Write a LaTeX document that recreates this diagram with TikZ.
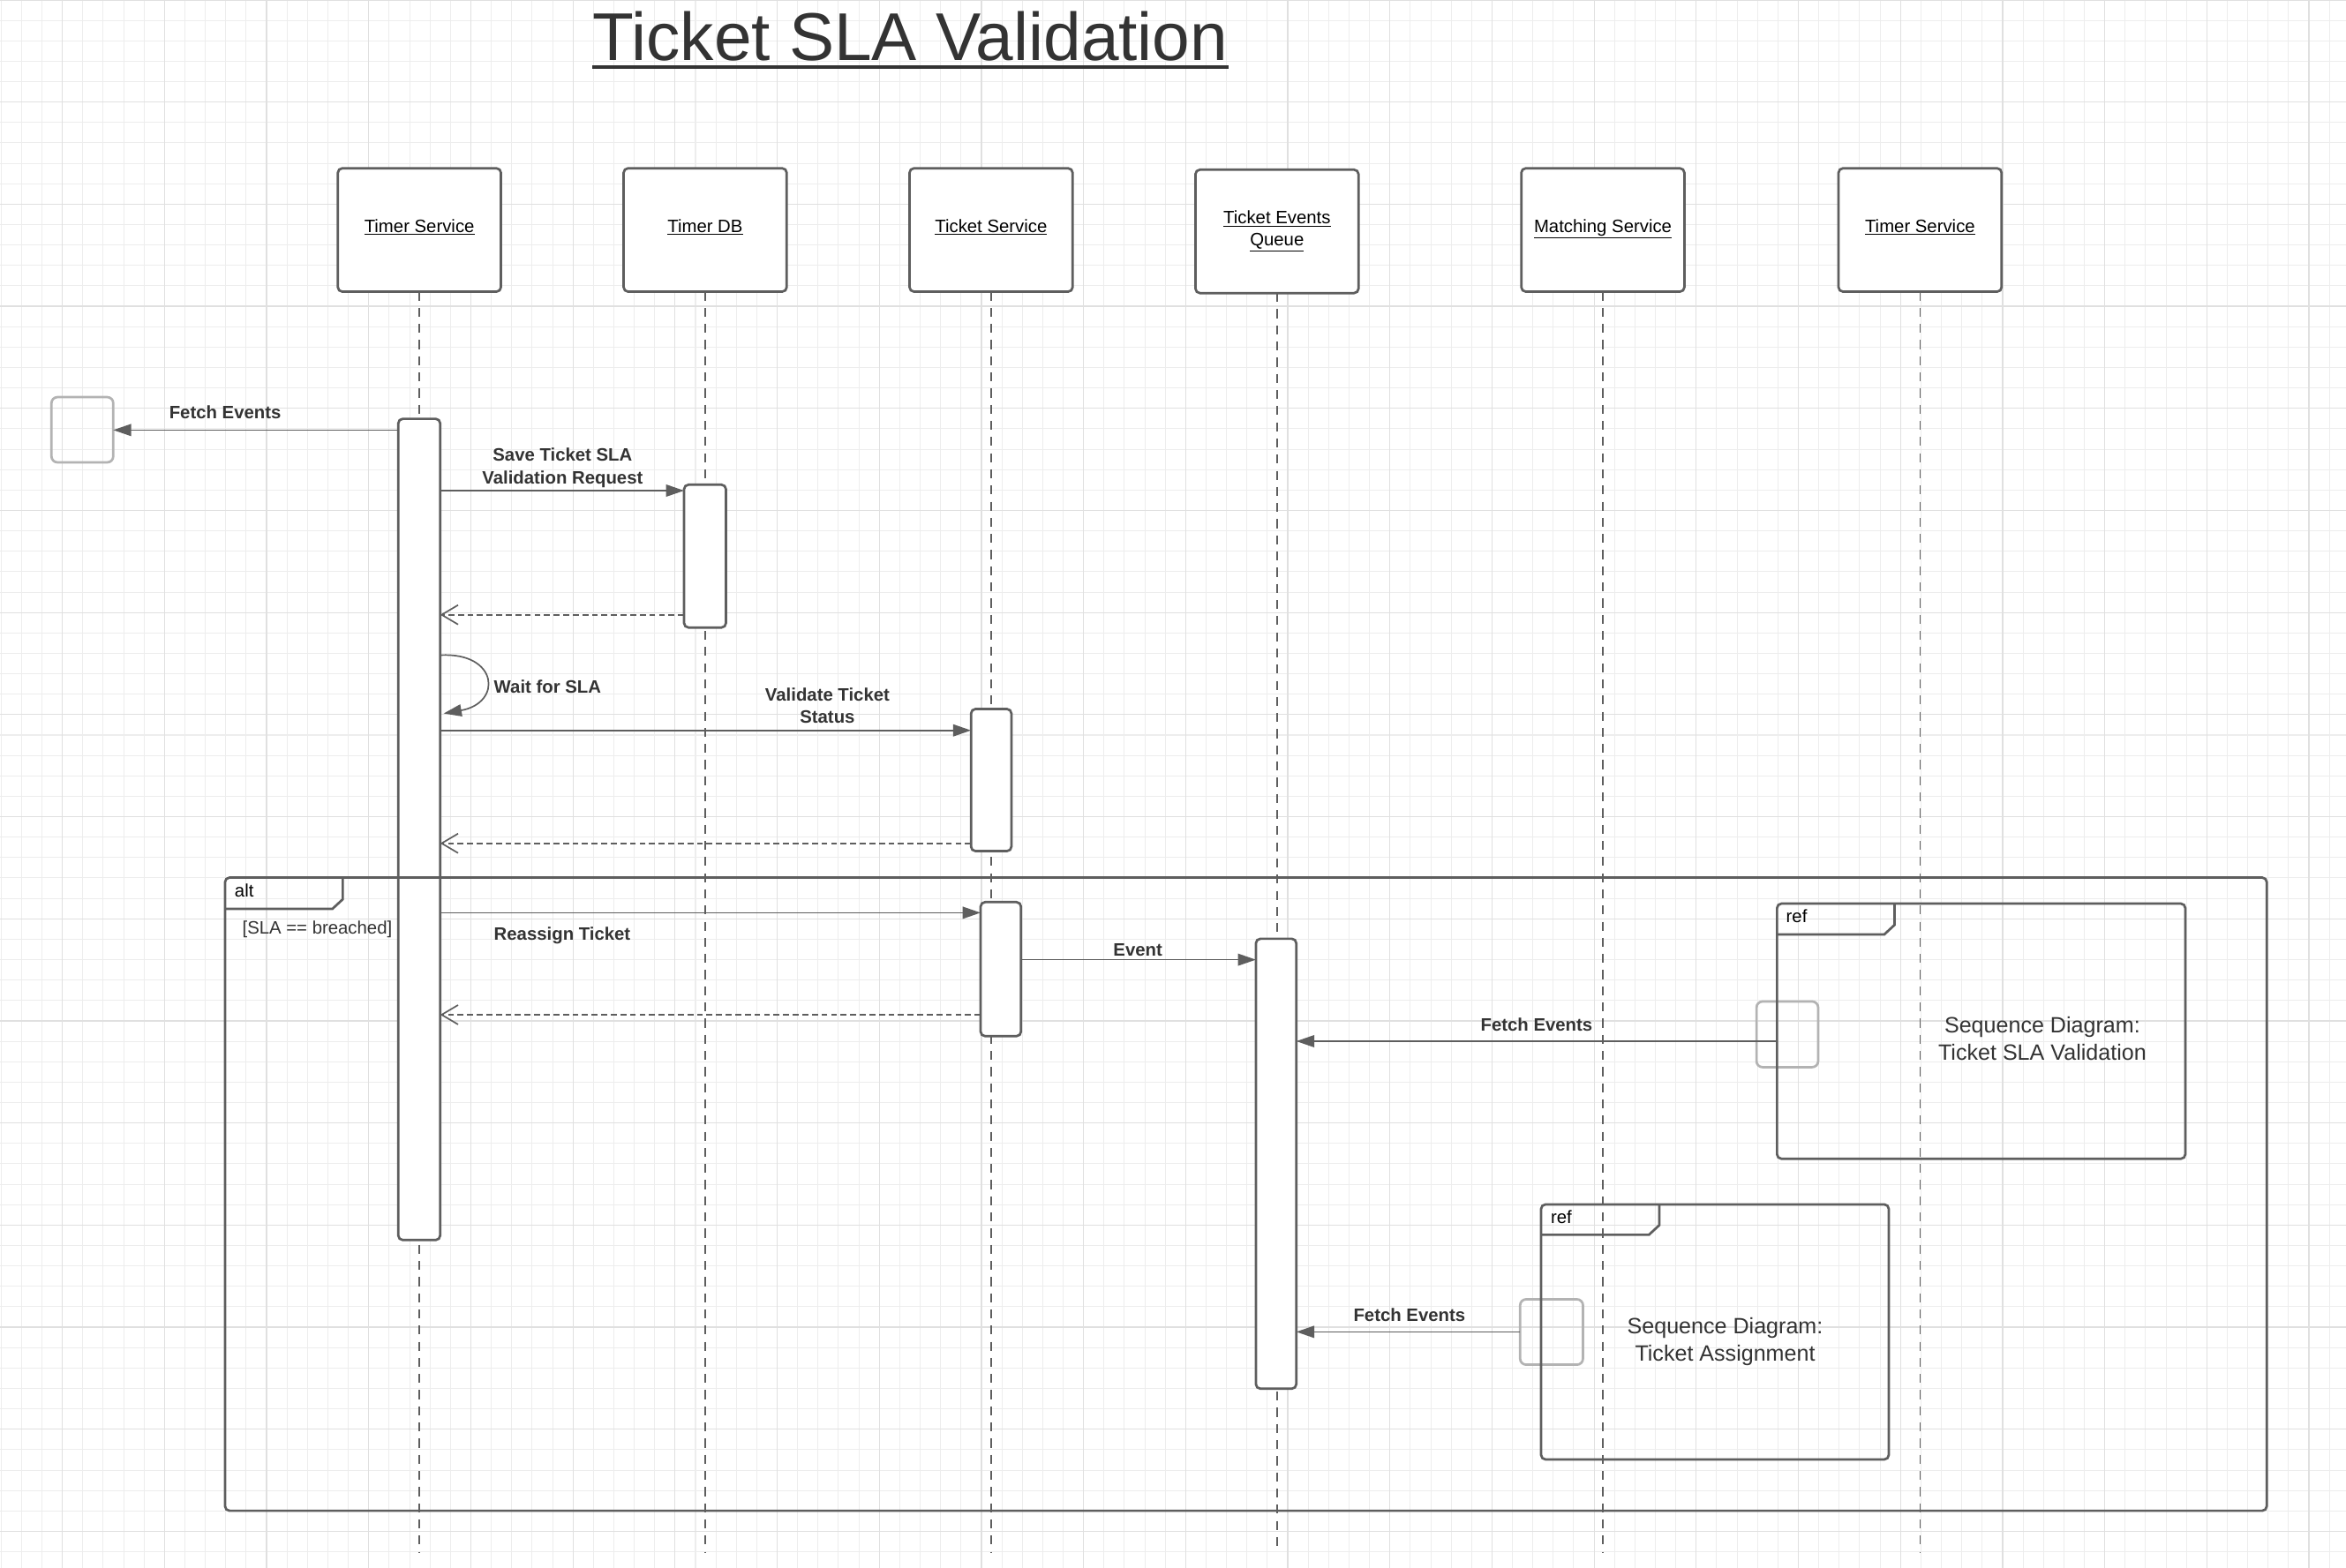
\documentclass[tikz,border=0pt]{standalone}
\usepackage{fontspec}
\setmainfont{Liberation Sans}
\usetikzlibrary{arrows.meta,calc}
\definecolor{ln}{HTML}{5E5E5E}
\definecolor{tx}{HTML}{333333}
\definecolor{gb}{HTML}{B3B3B3}
\definecolor{gmin}{HTML}{EDEDED}
\definecolor{gmaj}{HTML}{E0E0E0}
\tikzset{
  head/.style={draw=ln, line width=1.6pt, fill=white, rounded corners=3pt, minimum width=109pt, minimum height=82.5pt, inner sep=0pt, outer sep=0pt, font=\fontsize{12}{14.4}\selectfont, text=black, align=center},
  onehead/.style={head, text height=8pt, text depth=5pt},
  actbar/.style={draw=ln, line width=1.6pt, fill=white, rounded corners=3pt, inner sep=0pt, outer sep=0pt},
  ghost/.style={draw=gb, line width=1.6pt, rounded corners=4pt, inner sep=0pt, outer sep=0pt},
  lifeline/.style={draw=ln, line width=1pt, dash pattern=on 6pt off 4.8pt},
  msg/.style={draw=ln, line width=1pt, -{Triangle[length=12pt,width=8pt]}},
  retmsg/.style={draw=ln, line width=1pt, dash pattern=on 4pt off 2.4pt, -{Straight Barb[length=11pt,width=13pt,line width=1pt]}},
  lbl/.style={font=\fontsize{12}{14.4}\selectfont\bfseries, text=tx, inner sep=0pt, anchor=base},
  guard/.style={font=\fontsize{12}{14.4}\selectfont, inner sep=0pt, anchor=base west},
  reftext/.style={font=\fontsize{14.8}{17.8}\selectfont, text=tx, inner sep=0pt, anchor=base},
  umlframe/.style={draw=ln, line width=1.6pt, rounded corners=3pt, inner sep=0pt, outer sep=0pt},
  tabline/.style={draw=ln, line width=1.6pt},
}
\begin{document}
\begin{tikzpicture}[x=1pt,y=-1pt]
\useasboundingbox (0,0) rectangle (1568,1048);
\fill[white] (0,0) rectangle (1568,1048);
% grid
\foreach \i in {0,...,114} \draw[gmin, line width=0.6pt] ({0.75+13.65*\i},0) -- ({0.75+13.65*\i},1048);
\foreach \i in {0,...,76} \draw[gmin, line width=0.6pt] (0,{13.65*\i}) -- (1568,{13.65*\i});
\foreach \i in {0,...,22} \draw[gmaj, line width=0.7pt] ({41.7+68.25*\i},0) -- ({41.7+68.25*\i},1048);
\foreach \i in {0,...,15} \draw[gmaj, line width=0.7pt] (0,{68.25*\i}) -- (1568,{68.25*\i});

% title
\node[font=\fontsize{45.2}{54}\selectfont, text=tx, anchor=base, inner sep=0pt] (title) at (608.4,40.3) {Ticket SLA Validation};
\draw[tx, line width=2.5pt] ([yshift=-4.7pt]title.base west) -- ([yshift=-4.7pt]title.base east);

% lifeline heads
\node[onehead] (h1) at (280.3,153.75) {\underline{Timer Service}};
\node[onehead] (h2) at (471.3,153.75) {\underline{Timer DB}};
\node[onehead] (h3) at (662.4,153.75) {\underline{Ticket Service}};
\node[head] (h4) at (853.5,154.7) {\underline{Ticket Events}\\\underline{Queue}};
\node[onehead] (h5) at (1071.3,153.75) {\underline{Matching Service}};
\node[onehead] (h6) at (1283.3,153.75) {\underline{Timer Service}};

% lifeline ends
\coordinate (e1) at (280.3,1038);
\coordinate (e2) at (471.3,1038);
\coordinate (e3) at (662.4,1038);
\coordinate (e4) at (853.5,1038);
\coordinate (e5) at (1071.3,1038);
\coordinate (e6) at (1283.3,1038);
\draw[lifeline] (h1.south) -- (e1);
\draw[lifeline] (h2.south) -- (e2);
\draw[lifeline] (h3.south) -- (e3);
\draw[lifeline] (h4.south) -- (e4);
\draw[lifeline] (h5.south) -- (e5);
\draw[lifeline] (h6.south) -- (e6);

% activation bars
\node[actbar, minimum width=28pt, minimum height=549pt] (b1) at (280.2,554.5) {};
\node[actbar, minimum width=28pt, minimum height=95.5pt] (b2) at (471.2,371.8) {};
\node[actbar, minimum width=27pt, minimum height=95pt] (b3) at (662.5,521.5) {};
\node[actbar, minimum width=27pt, minimum height=89.6pt] (b4) at (668.9,647.9) {};
\node[actbar, minimum width=27pt, minimum height=300.8pt] (b5) at (852.9,778) {};

% ghost boxes
\node[ghost, minimum width=41.3pt, minimum height=43.6pt] (g1) at (55.05,287.3) {};
\node[ghost, minimum width=41.2pt, minimum height=43.9pt] (g2) at (1194.6,691.5) {};
\node[ghost, minimum width=42pt, minimum height=43.7pt] (g3) at (1037,890.5) {};

% frames
\node[umlframe, minimum width=1364.6pt, minimum height=423.3pt] (alt) at (832.7,798.35) {};
\draw[tabline] ($(alt.north west)+(0,20.9)$) -- ++(71.8,0) -- ++(6.9,-6.4) -- ++(0,-14.5);
\node[umlframe, minimum width=272.9pt, minimum height=170.6pt] (ref1) at (1324.15,689.4) {};
\draw[tabline] ($(ref1.north west)+(0,20.6)$) -- ++(71.7,0) -- ++(6.9,-6.4) -- ++(0,-14.2);
\node[umlframe, minimum width=232.4pt, minimum height=170.5pt] (ref2) at (1146.2,890.45) {};
\draw[tabline] ($(ref2.north west)+(0,20.3)$) -- ++(72.1,0) -- ++(6.9,-6.4) -- ++(0,-13.9);

\node[guard, text=black] (altlbl) at (156.7,599.7) {alt};
\node[guard, text=tx] (guardlbl) at (161.8,624.7) {[SLA == breached]};
\node[guard, text=black] (ref1lbl) at (1193.6,616.8) {ref};
\node[guard, text=black] (ref2lbl) at (1036.3,818) {ref};
\node[reftext] (ref1a) at (1365,690.6) {Sequence Diagram:};
\node[reftext] (ref1b) at (1365,708.9) {Ticket SLA Validation};
\node[reftext] (ref2a) at (1153,891.7) {Sequence Diagram:};
\node[reftext] (ref2b) at (1153,909.8) {Ticket Assignment};

% message levels
\coordinate (y1) at (0,287.5);
\coordinate (y2) at (0,328);
\coordinate (y3) at (0,411);
\coordinate (y5) at (0,488.3);
\coordinate (y6) at (0,563.8);
\coordinate (y7) at (0,610.2);
\coordinate (y8) at (0,641.6);
\coordinate (y9) at (0,678.4);
\coordinate (y10) at (0,696.1);
\coordinate (y11) at (0,890.4);
\coordinate (sw1) at (294.5,438);
\coordinate (sw2) at (296.5,477);

% messages
\draw[msg] (b1.west |- y1) -- (g1.east |- y1);
\draw[msg] (b1.east |- y2) -- (b2.west |- y2);
\draw[retmsg] (b2.west |- y3) -- (b1.east |- y3);
\draw[msg] (sw1) .. controls (333,436) and (336,470) .. (sw2);
\draw[msg] (b1.east |- y5) -- (b3.west |- y5);
\draw[retmsg] (b3.west |- y6) -- (b1.east |- y6);
\draw[msg] (b1.east |- y7) -- (b4.west |- y7);
\draw[msg] (b4.east |- y8) -- (b5.west |- y8);
\draw[retmsg] (b4.west |- y9) -- (b1.east |- y9);
\draw[msg] (ref1.west |- y10) -- (b5.east |- y10);
\draw[msg] (g3.west |- y11) -- (b5.east |- y11);

% labels
\node[lbl] (l1) at (150.5,280.2) {Fetch Events};
\node[lbl] (l2a) at (376,308.5) {Save Ticket SLA};
\node[lbl] (l2b) at (376,323.3) {Validation Request};
\node[lbl, anchor=base west] (l3) at (330,463.5) {Wait for SLA};
\node[lbl] (l4a) at (553,468.5) {Validate Ticket};
\node[lbl] (l4b) at (553,483.3) {Status};
\node[lbl, anchor=base west] (l5) at (330,628.6) {Reassign Ticket};
\node[lbl] (l6) at (760.5,639.3) {Event};
\node[lbl] (l7) at (1027,689.5) {Fetch Events};
\node[lbl] (l8) at (942,883.5) {Fetch Events};
\end{tikzpicture}
\end{document}
